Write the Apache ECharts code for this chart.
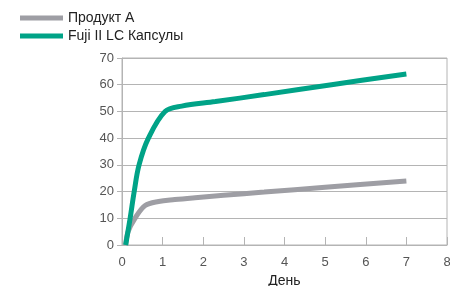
<!DOCTYPE html>
<html>
<head>
<meta charset="utf-8">
<script src="https://cdn.jsdelivr.net/npm/echarts@6/dist/echarts.min.js"></script>
<style>
  html, body { margin: 0; padding: 0; background: #fff; }
  #chart { width: 450px; height: 286px; }
</style>
</head>
<body>
<div id="chart"></div>
<script>
// значения
const seriesNames = ['Продукт А', 'Fuji II LC Капсулы'];
const productA = [[0.09, 0], [0.15, 5], [0.32, 10], [0.57, 14.8], [0.9, 16.3], [1.3, 17.0], [1.8, 17.7], [2.5, 18.6], [3.5, 19.8], [5, 21.6], [7, 24]];
const fujiCaps = [[0.09, 0], [0.2, 10], [0.3, 20], [0.42, 30], [0.65, 40], [1.06, 50], [1.47, 52], [2.3, 53.7], [3.5, 56.3], [5.2, 60.1], [7, 64]];
const xTicks = [0, 1, 2, 3, 4, 5, 6, 7, 8];
const yTicks = [0, 10, 20, 30, 40, 50, 60, 70];

const chart = echarts.init(document.getElementById('chart'));
const axisGray = '#b4b4b4';

chart.setOption({
  animation: false,
  textStyle: { fontFamily: 'Liberation Sans' },
  legend: {
    orient: 'vertical',
    left: 15,
    top: 6,
    itemWidth: 43,
    itemHeight: 5,
    itemGap: 4,
    icon: 'rect',
    textStyle: { fontSize: 14, color: '#222', padding: [0, 0, 0, 0] },
    data: seriesNames
  },
  grid: {
    left: 122, right: 3, top: 58, bottom: 41,
    outerBoundsMode: 'none', containLabel: false,
    show: true, borderColor: axisGray, borderWidth: 1
  },
  xAxis: {
    type: 'value',
    min: xTicks[0], max: xTicks[xTicks.length - 1], interval: 1,
    name: 'День', nameLocation: 'middle', nameGap: 25,
    nameTextStyle: { fontSize: 14, color: '#222' },
    axisLine: { lineStyle: { color: axisGray } },
    axisTick: { inside: true, length: 8, lineStyle: { color: axisGray } },
    axisLabel: { fontSize: 13, color: '#555', margin: 11 },
    splitLine: { show: false }
  },
  yAxis: {
    type: 'value',
    min: yTicks[0], max: yTicks[yTicks.length - 1], interval: 10,
    axisLine: { show: true, lineStyle: { color: axisGray } },
    axisTick: { show: true, length: 5, lineStyle: { color: axisGray } },
    axisLabel: { fontSize: 13, color: '#555', margin: 8 },
    splitLine: { lineStyle: { color: axisGray } }
  },
  series: [
    {
      name: seriesNames[0], type: 'line', data: productA, smooth: 0.35,
      showSymbol: false, color: '#9e9ea4', lineStyle: { width: 5 }
    },
    {
      name: seriesNames[1], type: 'line', data: fujiCaps, smooth: 0.35,
      showSymbol: false, color: '#00a387', lineStyle: { width: 5 }
    }
  ]
});
</script>
</body>
</html>
